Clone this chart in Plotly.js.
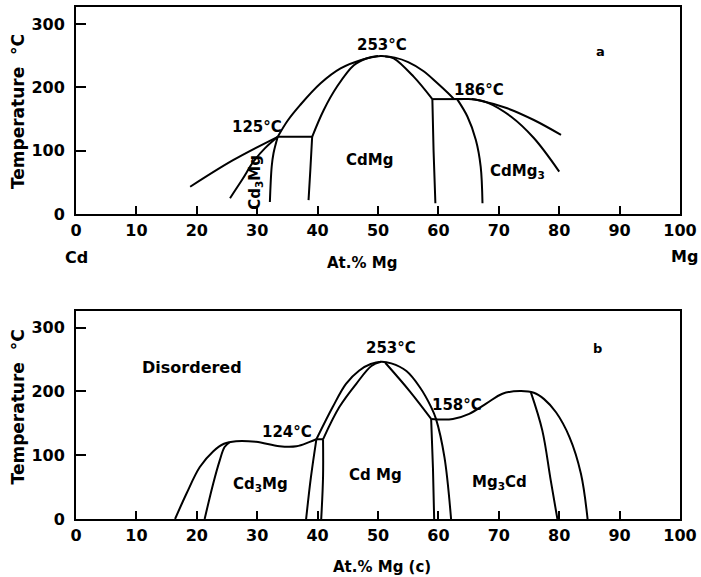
<!DOCTYPE html>
<html>
<head>
<meta charset="utf-8">
<script src="https://cdn.plot.ly/plotly-3.0.1.min.js"></script>
<style>html,body{margin:0;padding:0;background:#fff;}</style>
</head>
<body>
<div id="chart" style="width:701px;height:577px;"></div>
<script>
// ---------- Panel a (top) ----------
const aLeftLineX = [18.9, 26.0, 33.4];
const aLeftLineY = [43, 85, 122];
const aDomeX = [33.4, 35.0, 37.1, 40.5, 43.8, 47.1, 50.4, 52.8, 55.0, 57.5, 59.8, 61.5, 62.6];
const aDomeY = [122, 147, 172, 206.5, 230, 243, 249.6, 247, 240, 226, 207, 192, 181.5];
const aInnerLeftX = [39.1, 41.0, 43.2, 46.0, 48.2, 50.0];
const aInnerLeftY = [122, 164, 201, 235, 246, 249.5];
const aInnerRightX = [51.2, 52.6, 55.9, 59.0];
const aInnerRightY = [249, 246, 217, 181.5];
const aTie125X = [33.4, 39.1];
const aTie125Y = [122, 122];
const aTie186X = [59.0, 64.0];
const aTie186Y = [181.5, 181.5];
const aCd3MgLeftX = [33.4, 31.3, 29.4, 27.5, 25.5];
const aCd3MgLeftY = [122, 104, 83, 54, 25];
const aCd3MgRightX = [33.4, 32.7, 32.4, 32.1];
const aCd3MgRightY = [122, 96, 75, 19];
const aCdMgLeftX = [39.1, 38.8, 38.5];
const aCdMgLeftY = [122, 70, 22];
const aCdMgRightX = [59.0, 59.2, 59.5];
const aCdMgRightY = [181.5, 100, 17];
const aCdMg3LeftX = [63.1, 64.8, 66.2, 67.0, 67.3];
const aCdMg3LeftY = [181.5, 154, 117, 75, 17];
const aUpperRightX = [62.6, 65.0, 67.0, 71.4, 75.8, 80.3];
const aUpperRightY = [181.5, 181.5, 179, 167, 148.5, 125];
const aLowerRightX = [65.5, 68.1, 72.0, 75.8, 80.0];
const aLowerRightY = [181.5, 176, 154, 120, 67];

// ---------- Panel b (bottom) ----------
const bCd3MgOuterX = [16.4, 18.3, 20.5, 22.7, 24.5, 26.5, 29.8, 33.7, 36.5, 38.7, 39.8];
const bCd3MgOuterY = [0, 40, 81.5, 106, 118, 122, 121, 114, 114, 121, 125];
const bCd3MgInnerX = [21.3, 22.7, 23.8, 24.6, 25.4];
const bCd3MgInnerY = [0, 55, 92, 113, 120];
const bCd3MgRightX = [38.1, 38.9, 39.8];
const bCd3MgRightY = [0, 66, 125];
const bTie124X = [39.8, 40.9];
const bTie124Y = [125, 125];
const bCdMgLeftVertX = [40.6, 40.9, 40.9];
const bCdMgLeftVertY = [0, 66, 125];
const bCdMgDomeX = [39.8, 42.5, 44.7, 46.9, 48.8, 50.5, 52.2, 54.7, 56.9, 58.8, 59.6, 61.0, 62.1];
const bCdMgDomeY = [125, 175.5, 212, 233, 243, 246.5, 244, 232, 207, 175.5, 157, 97, 0];
const bCdMgInnerLeftX = [40.9, 43.6, 46.4, 48.9, 50.5];
const bCdMgInnerLeftY = [125, 175.5, 212, 240, 246.5];
const bCdMgInnerRightX = [51.2, 55.2, 58.8];
const bCdMgInnerRightY = [245, 201, 157];
const bCdMgRightVertX = [58.8, 59.1, 59.3];
const bCdMgRightVertY = [157, 80, 0];
const bMg3CdOuterX = [58.8, 62.4, 65.1, 67.9, 70.6, 73.5, 75.8, 77.5, 79.5, 81.7, 83.6, 84.7];
const bMg3CdOuterY = [157, 157, 165, 181, 196.5, 200.6, 198, 188, 167, 128.5, 71, 0];
const bMg3CdInnerX = [75.3, 77.2, 78.6, 79.7];
const bMg3CdInnerY = [199, 139, 60.6, 0];

const xTicks = [0, 10, 20, 30, 40, 50, 60, 70, 80, 90, 100];
const yTicks = [0, 100, 200, 300];

const FONT = 'DejaVu Sans, sans-serif';
const lineStyle = {color: '#000', width: 2, shape: 'spline', smoothing: 1, simplify: false};
const straight = {color: '#000', width: 2};

function tr(x, y, axis, ln) {
  return {x: x, y: y, mode: 'lines', line: ln || lineStyle, hoverinfo: 'skip',
          showlegend: false, xaxis: axis === 'a' ? 'x' : 'x2', yaxis: axis === 'a' ? 'y' : 'y2'};
}

const data = [
  tr(aLeftLineX, aLeftLineY, 'a'),
  tr(aDomeX, aDomeY, 'a'),
  tr(aInnerLeftX, aInnerLeftY, 'a'),
  tr(aInnerRightX, aInnerRightY, 'a'),
  tr(aTie125X, aTie125Y, 'a', straight),
  tr(aTie186X, aTie186Y, 'a', straight),
  tr(aCd3MgLeftX, aCd3MgLeftY, 'a'),
  tr(aCd3MgRightX, aCd3MgRightY, 'a'),
  tr(aCdMgLeftX, aCdMgLeftY, 'a'),
  tr(aCdMgRightX, aCdMgRightY, 'a'),
  tr(aCdMg3LeftX, aCdMg3LeftY, 'a'),
  tr(aUpperRightX, aUpperRightY, 'a'),
  tr(aLowerRightX, aLowerRightY, 'a'),
  tr(bCd3MgOuterX, bCd3MgOuterY, 'b'),
  tr(bCd3MgInnerX, bCd3MgInnerY, 'b'),
  tr(bCd3MgRightX, bCd3MgRightY, 'b'),
  tr(bTie124X, bTie124Y, 'b', straight),
  tr(bCdMgLeftVertX, bCdMgLeftVertY, 'b'),
  tr(bCdMgDomeX, bCdMgDomeY, 'b'),
  tr(bCdMgInnerLeftX, bCdMgInnerLeftY, 'b'),
  tr(bCdMgInnerRightX, bCdMgInnerRightY, 'b'),
  tr(bCdMgRightVertX, bCdMgRightVertY, 'b'),
  tr(bMg3CdOuterX, bMg3CdOuterY, 'b'),
  tr(bMg3CdInnerX, bMg3CdInnerY, 'b')
];

function xax(anchor) {
  return {range: [0, 100], domain: [0, 1], anchor: anchor, tickmode: 'array', tickvals: xTicks,
    ticks: 'inside', ticklen: 8, tickwidth: 2, tickcolor: '#000', showline: true, linewidth: 2,
    linecolor: '#000', mirror: true, showgrid: false, zeroline: false,
    tickfont: {family: FONT, size: 16, color: '#000', weight: 'bold'}, ticklabelstandoff: 1};
}
function yax(anchor, dom, top) {
  return {range: [0, top], domain: dom, anchor: anchor, tickmode: 'array', tickvals: yTicks,
    ticks: 'inside', ticklen: 10, tickwidth: 2, tickcolor: '#000', showline: true, linewidth: 2,
    linecolor: '#000', mirror: true, showgrid: false, zeroline: false,
    tickfont: {family: FONT, size: 16, color: '#000', weight: 'bold'}, ticklabelstandoff: 6};
}

function ann(text, x, y, axis, extra) {
  return Object.assign({text: text, x: x, y: y, xref: axis === 'a' ? 'x' : 'x2', yref: axis === 'a' ? 'y' : 'y2',
    showarrow: false, xanchor: 'center', yanchor: 'middle',
    font: {family: FONT, size: 15, color: '#000', weight: 'bold'}}, extra || {});
}
const big = {family: FONT, size: 16, color: '#000', weight: 'bold'};
const small = {family: FONT, size: 13, color: '#000', weight: 'bold'};
const ytitle = {family: FONT, size: 17, color: '#000', weight: 'bold'};

const annotations = [
  ann('253°C', 50.6, 267, 'a'),
  ann('186°C', 66.7, 196, 'a'),
  ann('125°C', 29.9, 137, 'a'),
  ann('CdMg', 48.6, 85, 'a'),
  ann('CdMg<sub>3</sub>', 73.1, 67, 'a'),
  ann('Cd<sub>3</sub>Mg', 29.7, 50, 'a', {textangle: -90}),
  ann('a', 86.9, 257, 'a', {font: small}),
  ann('Cd', 0, 0.51, 'a', {yref: 'paper', font: big}),
  ann('Mg', 1.008, 0.512, 'a', {xref: 'paper', yref: 'paper', font: big}),
  ann('At.% Mg', 47.4, 0.5, 'a', {yref: 'paper'}),
  ann('Temperature\u00a0\u00a0°C', -0.096, 161, 'a', {xref: 'paper', textangle: -90, font: ytitle}),
  ann('b', 86.4, 267.5, 'b', {font: small}),
  ann('Disordered', 19.2, 238, 'b', {font: big}),
  ann('253°C', 52.1, 267.5, 'b'),
  ann('124°C', 35, 136, 'b'),
  ann('158°C', 63, 178, 'b'),
  ann('Cd<sub>3</sub>Mg', 30.6, 54, 'b'),
  ann('Cd Mg', 49.6, 68.5, 'b'),
  ann('Mg<sub>3</sub>Cd', 70.1, 58, 'b'),
  ann('At.% Mg (c)', 50.6, -0.094, 'b', {yref: 'paper'}),
  ann('Temperature\u00a0\u00a0°C', -0.096, 175, 'b', {xref: 'paper', textangle: -90, font: ytitle})
];

const layout = {
  width: 701, height: 577,
  margin: {l: 76, r: 21, t: 7, b: 58},
  paper_bgcolor: '#fff', plot_bgcolor: '#fff',
  showlegend: false,
  xaxis: xax('y'),
  yaxis: yax('x', [0.5957, 1], 327),
  xaxis2: xax('y2'),
  yaxis2: yax('x2', [0, 0.406], 326),
  annotations: annotations,
  font: {family: FONT, color: '#000'}
};

Plotly.newPlot('chart', data, layout, {displayModeBar: false, staticPlot: true});
</script>
</body>
</html>
